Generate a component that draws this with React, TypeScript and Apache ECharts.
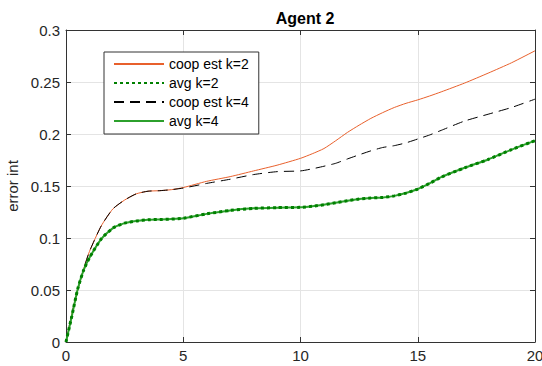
import React, { useEffect, useRef } from "react";
import * as echarts from "echarts";

const tValues = [0, 0.25, 0.5, 0.75, 1, 1.5, 2, 2.5, 3, 3.5, 4, 4.5, 5, 6, 7, 8, 9, 10, 10.5, 11, 11.5, 12, 12.5, 13, 13.5, 14, 14.5, 15, 15.5, 16, 17, 18, 19, 20];

const coopK2 = [0, 0.027, 0.05, 0.07, 0.087, 0.1115, 0.128, 0.1365, 0.1425, 0.145, 0.1455, 0.1465, 0.1485,
  0.1545, 0.159, 0.1645, 0.17, 0.1766, 0.181, 0.186, 0.1935, 0.2015, 0.2085, 0.215, 0.2205, 0.2255, 0.2295, 0.2328, 0.2365, 0.2405, 0.249, 0.2585, 0.2685, 0.28];
const avgK2 = [0, 0.025, 0.051, 0.069, 0.081, 0.099, 0.1095, 0.1143, 0.1163, 0.1175, 0.1178, 0.1182, 0.119,
  0.1232, 0.1265, 0.1285, 0.1292, 0.1295, 0.1305, 0.132, 0.134, 0.1358, 0.1375, 0.1385, 0.139, 0.1405, 0.1432, 0.1471, 0.1525, 0.1585, 0.1675, 0.1755, 0.185, 0.1936];
const coopK4 = [0, 0.027, 0.05, 0.07, 0.087, 0.1115, 0.128, 0.1365, 0.1425, 0.145, 0.1455, 0.1465, 0.148,
  0.1525, 0.1565, 0.161, 0.1638, 0.1645, 0.1665, 0.169, 0.1718, 0.176, 0.18, 0.1838, 0.187, 0.1888, 0.1915, 0.1952, 0.199, 0.2035, 0.2125, 0.219, 0.2255, 0.2335];
const avgK4 = avgK2.slice();

const xTicks = [0, 5, 10, 15, 20];
const yTicks = [0, 0.05, 0.1, 0.15, 0.2, 0.25, 0.3];

const names = ["coop est k=2", "avg k=2", "coop est k=4", "avg k=4"];

const FONT = "Liberation Sans, Arial, Helvetica, sans-serif";

export default function App() {
  const ref = useRef<HTMLDivElement>(null);
  useEffect(() => {
    if (!ref.current) return;
    const chart = echarts.init(ref.current, null, { renderer: "svg" });
    const pairs = (vals: number[]) => tValues.map((t, i) => [t, vals[i]]);
    const xRange = { min: xTicks[0], max: xTicks[xTicks.length - 1], interval: xTicks[1] - xTicks[0] };
    const yRange = { min: yTicks[0], max: yTicks[yTicks.length - 1], interval: yTicks[1] - yTicks[0] };
    const tickStyle = { show: true, inside: true, length: 5, lineStyle: { color: "#333", width: 1 } };
    const axisLine = { show: true, onZero: false, lineStyle: { color: "#333", width: 1 } };
    const grid = { show: true, lineStyle: { color: "#e4e4e4", width: 1 } };
    chart.setOption({
      animation: false,
      backgroundColor: "#fff",
      textStyle: { fontFamily: FONT },
      title: {
        text: "Agent 2",
        left: 300,
        textAlign: "center",
        top: 5,
        textStyle: { fontSize: 16, fontWeight: "bold", color: "#000", fontFamily: FONT },
      },
      grid: { left: 66, right: 7, top: 30, bottom: 24, show: false, containLabel: false, outerBoundsMode: "none" },
      legend: {
        data: names,
        orient: "vertical",
        left: 104,
        top: 52,
        itemWidth: 50,
        itemHeight: 14,
        itemGap: 5,
        padding: [5, 10, 6, 9],
        borderColor: "#333",
        borderWidth: 1,
        borderRadius: 0,
        backgroundColor: "#fff",
        itemStyle: { opacity: 0 },
        textStyle: { fontSize: 14, color: "#000", fontFamily: FONT },
      },
      xAxis: [
        {
          type: "value",
          ...xRange,
          axisLine,
          axisTick: tickStyle,
          axisLabel: { fontSize: 15, color: "#262626", margin: 6 },
          splitLine: grid,
        },
        {
          type: "value",
          position: "top",
          ...xRange,
          axisLine,
          axisTick: tickStyle,
          axisLabel: { show: false },
          splitLine: { show: false },
        },
      ],
      yAxis: [
        {
          type: "value",
          ...yRange,
          name: "error int",
          nameLocation: "middle",
          nameGap: 43,
          nameTextStyle: { fontSize: 15, color: "#262626", fontFamily: FONT },
          axisLine,
          axisTick: tickStyle,
          axisLabel: { fontSize: 15, color: "#262626", margin: 6 },
          splitLine: grid,
        },
        {
          type: "value",
          position: "right",
          ...yRange,
          axisLine,
          axisTick: tickStyle,
          axisLabel: { show: false },
          splitLine: { show: false },
        },
      ],
      series: [
        {
          name: names[0],
          type: "line",
          data: pairs(coopK2),
          smooth: 0.2,
          symbol: "none",
          lineStyle: { color: "#e8602c", width: 1 },
          itemStyle: { color: "#e8602c" },
          z: 2,
        },
        {
          name: names[1],
          type: "line",
          data: pairs(avgK2),
          smooth: 0.2,
          symbol: "none",
          lineStyle: { color: "#008000", width: 3, type: [3, 3] },
          itemStyle: { color: "#008000" },
          z: 5,
        },
        {
          name: names[2],
          type: "line",
          data: pairs(coopK4),
          smooth: 0.2,
          symbol: "none",
          lineStyle: { color: "#000", width: 1, type: [10, 6] },
          itemStyle: { color: "#000" },
          z: 3,
        },
        {
          name: names[3],
          type: "line",
          data: pairs(avgK4),
          smooth: 0.2,
          symbol: "none",
          lineStyle: { color: "#2ca02c", width: 2 },
          itemStyle: { color: "#2ca02c" },
          z: 4,
        },
      ],
    });
    return () => chart.dispose();
  }, []);
  return <div ref={ref} style={{ width: 542, height: 366, position: "absolute", left: 0, top: 0 }} />;
}
